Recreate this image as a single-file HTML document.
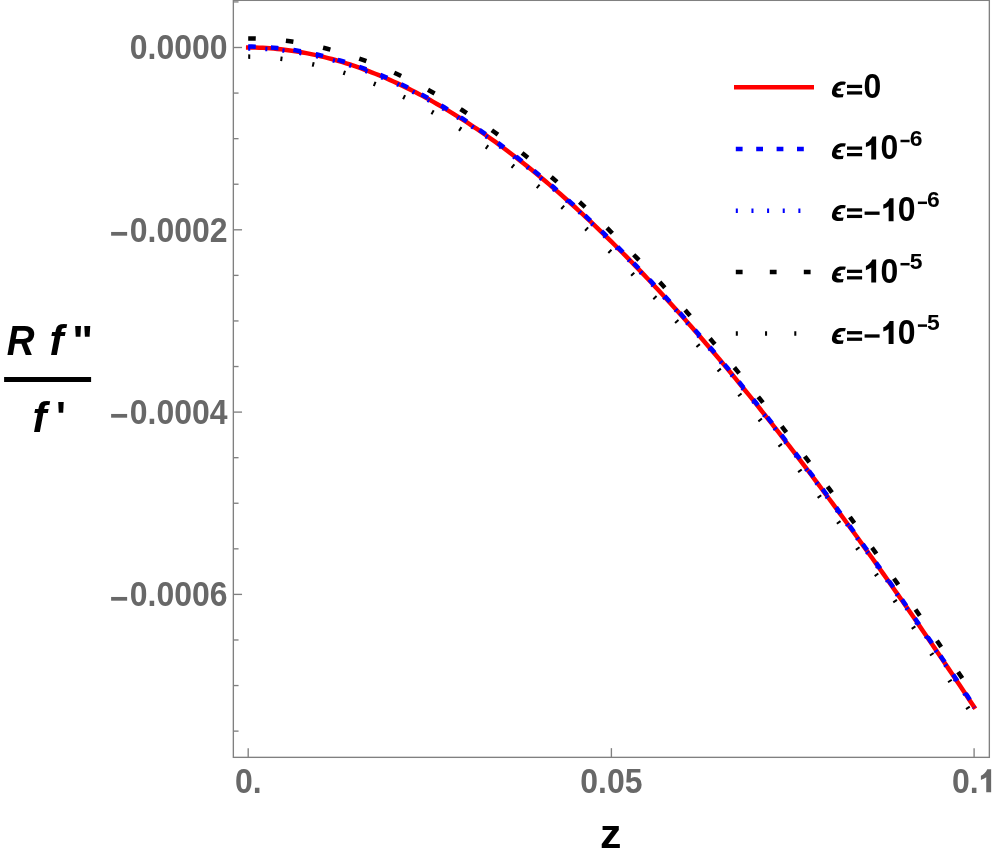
<!DOCTYPE html>
<html><head><meta charset="utf-8"><title>plot</title>
<style>html,body{margin:0;padding:0;background:#fff;}body{width:996px;height:857px;overflow:hidden;font-family:"Liberation Sans",sans-serif;}svg{display:block;will-change:transform}</style>
</head><body>
<svg width="996" height="857" viewBox="0 0 996 857">
<rect x="0" y="0" width="996" height="857" fill="#fff"/>
<g stroke="#808080" stroke-width="1.35" fill="none">
<rect x="233.35" y="0.35" width="756.0" height="757.0"/>
<line x1="233.35" y1="1.92" x2="238.54999999999998" y2="1.92"/>
<line x1="233.35" y1="47.50" x2="242.04999999999998" y2="47.50"/>
<line x1="233.35" y1="93.08" x2="238.54999999999998" y2="93.08"/>
<line x1="233.35" y1="138.65" x2="238.54999999999998" y2="138.65"/>
<line x1="233.35" y1="184.23" x2="238.54999999999998" y2="184.23"/>
<line x1="233.35" y1="229.80" x2="242.04999999999998" y2="229.80"/>
<line x1="233.35" y1="275.38" x2="238.54999999999998" y2="275.38"/>
<line x1="233.35" y1="320.95" x2="238.54999999999998" y2="320.95"/>
<line x1="233.35" y1="366.53" x2="238.54999999999998" y2="366.53"/>
<line x1="233.35" y1="412.10" x2="242.04999999999998" y2="412.10"/>
<line x1="233.35" y1="457.68" x2="238.54999999999998" y2="457.68"/>
<line x1="233.35" y1="503.25" x2="238.54999999999998" y2="503.25"/>
<line x1="233.35" y1="548.83" x2="238.54999999999998" y2="548.83"/>
<line x1="233.35" y1="594.40" x2="242.04999999999998" y2="594.40"/>
<line x1="233.35" y1="639.98" x2="238.54999999999998" y2="639.98"/>
<line x1="233.35" y1="685.55" x2="238.54999999999998" y2="685.55"/>
<line x1="233.35" y1="731.12" x2="238.54999999999998" y2="731.12"/>
<line x1="248.2" y1="757.35" x2="248.2" y2="748.15"/>
<line x1="611.4" y1="757.35" x2="611.4" y2="748.15"/>
<line x1="974.1" y1="757.35" x2="974.1" y2="748.15"/>
</g>
<g fill="none" stroke-width="4.5">
<path d="M248.20,47.50 L251.83,47.52 L255.46,47.59 L259.09,47.70 L262.72,47.86 L266.35,48.06 L269.98,48.30 L273.61,48.59 L277.24,48.93 L280.87,49.30 L284.50,49.72 L288.12,50.18 L291.75,50.69 L295.38,51.24 L299.01,51.83 L302.64,52.46 L306.27,53.14 L309.90,53.85 L313.53,54.61 L317.16,55.41 L320.79,56.25 L324.42,57.14 L328.05,58.06 L331.68,59.03 L335.31,60.03 L338.94,61.08 L342.57,62.16 L346.20,63.29 L349.83,64.46 L353.46,65.66 L357.08,66.91 L360.71,68.19 L364.34,69.52 L367.97,70.88 L371.60,72.28 L375.23,73.72 L378.86,75.20 L382.49,76.72 L386.12,78.27 L389.75,79.86 L393.38,81.49 L397.01,83.16 L400.64,84.87 L404.27,86.61 L407.90,88.39 L411.53,90.20 L415.16,92.06 L418.79,93.95 L422.42,95.87 L426.05,97.83 L429.68,99.83 L433.30,101.86 L436.93,103.93 L440.56,106.03 L444.19,108.17 L447.82,110.34 L451.45,112.55 L455.08,114.79 L458.71,117.07 L462.34,119.38 L465.97,121.72 L469.60,124.10 L473.23,126.51 L476.86,128.96 L480.49,131.44 L484.12,133.95 L487.75,136.50 L491.38,139.07 L495.01,141.69 L498.64,144.33 L502.26,147.00 L505.89,149.71 L509.52,152.45 L513.15,155.22 L516.78,158.02 L520.41,160.86 L524.04,163.72 L527.67,166.62 L531.30,169.54 L534.93,172.50 L538.56,175.49 L542.19,178.51 L545.82,181.56 L549.45,184.63 L553.08,187.74 L556.71,190.88 L560.34,194.05 L563.97,197.24 L567.60,200.47 L571.23,203.72 L574.86,207.01 L578.48,210.32 L582.11,213.66 L585.74,217.03 L589.37,220.43 L593.00,223.85 L596.63,227.30 L600.26,230.78 L603.89,234.29 L607.52,237.82 L611.15,241.39 L614.78,244.98 L618.41,248.59 L622.04,252.23 L625.67,255.90 L629.30,259.60 L632.93,263.32 L636.56,267.06 L640.19,270.84 L643.82,274.63 L647.44,278.46 L651.07,282.31 L654.70,286.18 L658.33,290.08 L661.96,294.00 L665.59,297.95 L669.22,301.93 L672.85,305.92 L676.48,309.94 L680.11,313.99 L683.74,318.06 L687.37,322.15 L691.00,326.27 L694.63,330.41 L698.26,334.57 L701.89,338.75 L705.52,342.96 L709.15,347.19 L712.78,351.45 L716.41,355.72 L720.04,360.02 L723.66,364.34 L727.29,368.68 L730.92,373.05 L734.55,377.43 L738.18,381.84 L741.81,386.27 L745.44,390.72 L749.07,395.19 L752.70,399.68 L756.33,404.19 L759.96,408.72 L763.59,413.28 L767.22,417.85 L770.85,422.44 L774.48,427.05 L778.11,431.69 L781.74,436.34 L785.37,441.01 L789.00,445.70 L792.62,450.41 L796.25,455.14 L799.88,459.88 L803.51,464.65 L807.14,469.43 L810.77,474.24 L814.40,479.06 L818.03,483.90 L821.66,488.75 L825.29,493.63 L828.92,498.52 L832.55,503.43 L836.18,508.36 L839.81,513.30 L843.44,518.26 L847.07,523.24 L850.70,528.24 L854.33,533.25 L857.96,538.27 L861.59,543.32 L865.22,548.38 L868.84,553.45 L872.47,558.54 L876.10,563.65 L879.73,568.78 L883.36,573.91 L886.99,579.07 L890.62,584.24 L894.25,589.42 L897.88,594.62 L901.51,599.83 L905.14,605.06 L908.77,610.30 L912.40,615.55 L916.03,620.83 L919.66,626.11 L923.29,631.41 L926.92,636.72 L930.55,642.04 L934.18,647.38 L937.81,652.73 L941.43,658.10 L945.06,663.48 L948.69,668.87 L952.32,674.27 L955.95,679.68 L959.58,685.11 L963.21,690.55 L966.84,696.01 L970.47,701.47 L974.10,706.95" stroke="#ff0000" stroke-linecap="square"/>
<path d="M248.20,46.59 L251.83,46.61 L255.46,46.68 L259.09,46.79 L262.72,46.95 L266.35,47.15 L269.98,47.39 L273.61,47.68 L277.24,48.02 L280.87,48.39 L284.50,48.81 L288.12,49.27 L291.75,49.78 L295.38,50.33 L299.01,50.92 L302.64,51.55 L306.27,52.23 L309.90,52.94 L313.53,53.70 L317.16,54.50 L320.79,55.34 L324.42,56.23 L328.05,57.15 L331.68,58.12 L335.31,59.12 L338.94,60.17 L342.57,61.25 L346.20,62.38 L349.83,63.55 L353.46,64.75 L357.08,66.00 L360.71,67.28 L364.34,68.61 L367.97,69.97 L371.60,71.37 L375.23,72.81 L378.86,74.29 L382.49,75.81 L386.12,77.36 L389.75,78.95 L393.38,80.58 L397.01,82.25 L400.64,83.96 L404.27,85.70 L407.90,87.48 L411.53,89.29 L415.16,91.15 L418.79,93.04 L422.42,94.96 L426.05,96.92 L429.68,98.92 L433.30,100.95 L436.93,103.02 L440.56,105.12 L444.19,107.26 L447.82,109.43 L451.45,111.64 L455.08,113.88 L458.71,116.16 L462.34,118.47 L465.97,120.81 L469.60,123.19 L473.23,125.60 L476.86,128.05 L480.49,130.53 L484.12,133.04 L487.75,135.59 L491.38,138.16 L495.01,140.78 L498.64,143.42 L502.26,146.09 L505.89,148.80 L509.52,151.54 L513.15,154.31 L516.78,157.11 L520.41,159.95 L524.04,162.81 L527.67,165.71 L531.30,168.63 L534.93,171.59 L538.56,174.58 L542.19,177.60 L545.82,180.65 L549.45,183.72 L553.08,186.83 L556.71,189.97 L560.34,193.14 L563.97,196.33 L567.60,199.56 L571.23,202.81 L574.86,206.10 L578.48,209.41 L582.11,212.75 L585.74,216.12 L589.37,219.52 L593.00,222.94 L596.63,226.39 L600.26,229.87 L603.89,233.38 L607.52,236.91 L611.15,240.48 L614.78,244.07 L618.41,247.68 L622.04,251.32 L625.67,254.99 L629.30,258.69 L632.93,262.41 L636.56,266.15 L640.19,269.93 L643.82,273.72 L647.44,277.55 L651.07,281.40 L654.70,285.27 L658.33,289.17 L661.96,293.09 L665.59,297.04 L669.22,301.02 L672.85,305.01 L676.48,309.03 L680.11,313.08 L683.74,317.15 L687.37,321.24 L691.00,325.36 L694.63,329.50 L698.26,333.66 L701.89,337.84 L705.52,342.05 L709.15,346.28 L712.78,350.54 L716.41,354.81 L720.04,359.11 L723.66,363.43 L727.29,367.77 L730.92,372.14 L734.55,376.52 L738.18,380.93 L741.81,385.36 L745.44,389.81 L749.07,394.28 L752.70,398.77 L756.33,403.28 L759.96,407.81 L763.59,412.37 L767.22,416.94 L770.85,421.53 L774.48,426.14 L778.11,430.78 L781.74,435.43 L785.37,440.10 L789.00,444.79 L792.62,449.50 L796.25,454.23 L799.88,458.97 L803.51,463.74 L807.14,468.52 L810.77,473.33 L814.40,478.15 L818.03,482.99 L821.66,487.84 L825.29,492.72 L828.92,497.61 L832.55,502.52 L836.18,507.45 L839.81,512.39 L843.44,517.35 L847.07,522.33 L850.70,527.33 L854.33,532.34 L857.96,537.36 L861.59,542.41 L865.22,547.47 L868.84,552.54 L872.47,557.63 L876.10,562.74 L879.73,567.87 L883.36,573.00 L886.99,578.16 L890.62,583.33 L894.25,588.51 L897.88,593.71 L901.51,598.92 L905.14,604.15 L908.77,609.39 L912.40,614.64 L916.03,619.92 L919.66,625.20 L923.29,630.50 L926.92,635.81 L930.55,641.13 L934.18,646.47 L937.81,651.82 L941.43,657.19 L945.06,662.57 L948.69,667.96 L952.32,673.36 L955.95,678.77 L959.58,684.20 L963.21,689.64 L966.84,695.10 L970.47,700.56 L974.10,706.04" stroke="#0000ff" stroke-dasharray="7.56 15.12"/>
<path d="M248.20,48.41 L251.83,48.43 L255.46,48.50 L259.09,48.61 L262.72,48.77 L266.35,48.97 L269.98,49.21 L273.61,49.50 L277.24,49.84 L280.87,50.21 L284.50,50.63 L288.12,51.09 L291.75,51.60 L295.38,52.15 L299.01,52.74 L302.64,53.37 L306.27,54.05 L309.90,54.76 L313.53,55.52 L317.16,56.32 L320.79,57.16 L324.42,58.05 L328.05,58.97 L331.68,59.94 L335.31,60.94 L338.94,61.99 L342.57,63.07 L346.20,64.20 L349.83,65.37 L353.46,66.57 L357.08,67.82 L360.71,69.10 L364.34,70.43 L367.97,71.79 L371.60,73.19 L375.23,74.63 L378.86,76.11 L382.49,77.63 L386.12,79.18 L389.75,80.77 L393.38,82.40 L397.01,84.07 L400.64,85.78 L404.27,87.52 L407.90,89.30 L411.53,91.11 L415.16,92.97 L418.79,94.86 L422.42,96.78 L426.05,98.74 L429.68,100.74 L433.30,102.77 L436.93,104.84 L440.56,106.94 L444.19,109.08 L447.82,111.25 L451.45,113.46 L455.08,115.70 L458.71,117.98 L462.34,120.29 L465.97,122.63 L469.60,125.01 L473.23,127.42 L476.86,129.87 L480.49,132.35 L484.12,134.86 L487.75,137.41 L491.38,139.98 L495.01,142.60 L498.64,145.24 L502.26,147.91 L505.89,150.62 L509.52,153.36 L513.15,156.13 L516.78,158.93 L520.41,161.77 L524.04,164.63 L527.67,167.53 L531.30,170.45 L534.93,173.41 L538.56,176.40 L542.19,179.42 L545.82,182.47 L549.45,185.54 L553.08,188.65 L556.71,191.79 L560.34,194.96 L563.97,198.15 L567.60,201.38 L571.23,204.63 L574.86,207.92 L578.48,211.23 L582.11,214.57 L585.74,217.94 L589.37,221.34 L593.00,224.76 L596.63,228.21 L600.26,231.69 L603.89,235.20 L607.52,238.73 L611.15,242.30 L614.78,245.89 L618.41,249.50 L622.04,253.14 L625.67,256.81 L629.30,260.51 L632.93,264.23 L636.56,267.97 L640.19,271.75 L643.82,275.54 L647.44,279.37 L651.07,283.22 L654.70,287.09 L658.33,290.99 L661.96,294.91 L665.59,298.86 L669.22,302.84 L672.85,306.83 L676.48,310.85 L680.11,314.90 L683.74,318.97 L687.37,323.06 L691.00,327.18 L694.63,331.32 L698.26,335.48 L701.89,339.66 L705.52,343.87 L709.15,348.10 L712.78,352.36 L716.41,356.63 L720.04,360.93 L723.66,365.25 L727.29,369.59 L730.92,373.96 L734.55,378.34 L738.18,382.75 L741.81,387.18 L745.44,391.63 L749.07,396.10 L752.70,400.59 L756.33,405.10 L759.96,409.63 L763.59,414.19 L767.22,418.76 L770.85,423.35 L774.48,427.96 L778.11,432.60 L781.74,437.25 L785.37,441.92 L789.00,446.61 L792.62,451.32 L796.25,456.05 L799.88,460.79 L803.51,465.56 L807.14,470.34 L810.77,475.15 L814.40,479.97 L818.03,484.81 L821.66,489.66 L825.29,494.54 L828.92,499.43 L832.55,504.34 L836.18,509.27 L839.81,514.21 L843.44,519.17 L847.07,524.15 L850.70,529.15 L854.33,534.16 L857.96,539.18 L861.59,544.23 L865.22,549.29 L868.84,554.36 L872.47,559.45 L876.10,564.56 L879.73,569.69 L883.36,574.82 L886.99,579.98 L890.62,585.15 L894.25,590.33 L897.88,595.53 L901.51,600.74 L905.14,605.97 L908.77,611.21 L912.40,616.46 L916.03,621.74 L919.66,627.02 L923.29,632.32 L926.92,637.63 L930.55,642.95 L934.18,648.29 L937.81,653.64 L941.43,659.01 L945.06,664.39 L948.69,669.78 L952.32,675.18 L955.95,680.59 L959.58,686.02 L963.21,691.46 L966.84,696.92 L970.47,702.38 L974.10,707.86" stroke="#0000ff" stroke-dasharray="2.04 15.12"/>
<path d="M248.20,38.40 L251.83,38.42 L255.46,38.49 L259.09,38.60 L262.72,38.76 L266.35,38.96 L269.98,39.20 L273.61,39.49 L277.24,39.83 L280.87,40.20 L284.50,40.62 L288.12,41.08 L291.75,41.59 L295.38,42.14 L299.01,42.73 L302.64,43.36 L306.27,44.03 L309.90,44.75 L313.53,45.51 L317.16,46.31 L320.79,47.15 L324.42,48.04 L328.05,48.96 L331.68,49.92 L335.31,50.93 L338.94,51.97 L342.57,53.06 L346.20,54.19 L349.83,55.35 L353.46,56.56 L357.08,57.80 L360.71,59.09 L364.34,60.41 L367.97,61.77 L371.60,63.17 L375.23,64.61 L378.86,66.09 L382.49,67.61 L386.12,69.16 L389.75,70.75 L393.38,72.38 L397.01,74.05 L400.64,75.75 L404.27,77.49 L407.90,79.27 L411.53,81.08 L415.16,82.93 L418.79,84.82 L422.42,86.74 L426.05,88.70 L429.68,90.70 L433.30,92.73 L436.93,94.79 L440.56,96.90 L444.19,99.03 L447.82,101.20 L451.45,103.41 L455.08,105.65 L458.71,107.92 L462.34,110.23 L465.97,112.57 L469.60,114.95 L473.23,117.36 L476.86,119.80 L480.49,122.28 L484.12,124.79 L487.75,127.33 L491.38,129.90 L495.01,132.51 L498.64,135.15 L502.26,137.82 L505.89,140.53 L509.52,143.26 L513.15,146.03 L516.78,148.83 L520.41,151.66 L524.04,154.52 L527.67,157.41 L531.30,160.33 L534.93,163.28 L538.56,166.27 L542.19,169.28 L545.82,172.32 L549.45,175.40 L553.08,178.50 L556.71,181.63 L560.34,184.80 L563.97,187.99 L567.60,191.21 L571.23,194.46 L574.86,197.73 L578.48,201.04 L582.11,204.37 L585.74,207.74 L589.37,211.13 L593.00,214.55 L596.63,217.99 L600.26,221.47 L603.89,224.97 L607.52,228.49 L611.15,232.05 L614.78,235.63 L618.41,239.24 L622.04,242.87 L625.67,246.53 L629.30,250.22 L632.93,253.93 L636.56,257.67 L640.19,261.44 L643.82,265.23 L647.44,269.04 L651.07,272.88 L654.70,276.75 L658.33,280.64 L661.96,284.55 L665.59,288.49 L669.22,292.45 L672.85,296.44 L676.48,300.45 L680.11,304.49 L683.74,308.55 L687.37,312.63 L691.00,316.74 L694.63,320.86 L698.26,325.02 L701.89,329.19 L705.52,333.39 L709.15,337.61 L712.78,341.85 L716.41,346.11 L720.04,350.40 L723.66,354.71 L727.29,359.04 L730.92,363.39 L734.55,367.76 L738.18,372.16 L741.81,376.57 L745.44,381.01 L749.07,385.46 L752.70,389.94 L756.33,394.44 L759.96,398.96 L763.59,403.50 L767.22,408.05 L770.85,412.63 L774.48,417.23 L778.11,421.85 L781.74,426.48 L785.37,431.14 L789.00,435.81 L792.62,440.51 L796.25,445.22 L799.88,449.95 L803.51,454.70 L807.14,459.47 L810.77,464.25 L814.40,469.06 L818.03,473.88 L821.66,478.72 L825.29,483.57 L828.92,488.45 L832.55,493.34 L836.18,498.25 L839.81,503.17 L843.44,508.12 L847.07,513.07 L850.70,518.05 L854.33,523.04 L857.96,528.05 L861.59,533.07 L865.22,538.11 L868.84,543.17 L872.47,548.24 L876.10,553.32 L879.73,558.42 L883.36,563.54 L886.99,568.67 L890.62,573.82 L894.25,578.98 L897.88,584.15 L901.51,589.34 L905.14,594.55 L908.77,599.77 L912.40,605.00 L916.03,610.25 L919.66,615.51 L923.29,620.78 L926.92,626.07 L930.55,631.37 L934.18,636.68 L937.81,642.00 L941.43,647.34 L945.06,652.69 L948.69,658.06 L952.32,663.43 L955.95,668.82 L959.58,674.22 L963.21,679.64 L966.84,685.06 L970.47,690.50 L974.10,695.95" stroke="#000" stroke-dasharray="7.56 30.24"/>
<path d="M248.20,56.60 L251.83,56.67 L255.46,56.79 L259.09,56.95 L262.72,57.15 L266.35,57.40 L269.98,57.69 L273.61,58.02 L277.24,58.40 L280.87,58.82 L284.50,59.28 L288.12,59.79 L291.75,60.33 L295.38,60.92 L299.01,61.55 L302.64,62.23 L306.27,62.94 L309.90,63.70 L313.53,64.49 L317.16,65.33 L320.79,66.21 L324.42,67.13 L328.05,68.09 L331.68,69.09 L335.31,70.13 L338.94,71.21 L342.57,72.33 L346.20,73.49 L349.83,74.69 L353.46,75.92 L357.08,77.20 L360.71,78.51 L364.34,79.87 L367.97,81.26 L371.60,82.69 L375.23,84.16 L378.86,85.66 L382.49,87.21 L386.12,88.79 L389.75,90.41 L393.38,92.06 L397.01,93.76 L400.64,95.49 L404.27,97.25 L407.90,99.05 L411.53,100.89 L415.16,102.77 L418.79,104.68 L422.42,106.62 L426.05,108.60 L429.68,110.62 L433.30,112.67 L436.93,114.76 L440.56,116.88 L444.19,119.04 L447.82,121.23 L451.45,123.45 L455.08,125.71 L458.71,128.01 L462.34,130.33 L465.97,132.69 L469.60,135.09 L473.23,137.51 L476.86,139.97 L480.49,142.47 L484.12,144.99 L487.75,147.55 L491.38,150.14 L495.01,152.76 L498.64,155.42 L502.26,158.10 L505.89,160.82 L509.52,163.57 L513.15,166.35 L516.78,169.16 L520.41,172.00 L524.04,174.88 L527.67,177.78 L531.30,180.72 L534.93,183.68 L538.56,186.67 L542.19,189.70 L545.82,192.75 L549.45,195.84 L553.08,198.95 L556.71,202.09 L560.34,205.27 L563.97,208.47 L567.60,211.70 L571.23,214.95 L574.86,218.24 L578.48,221.56 L582.11,224.90 L585.74,228.27 L589.37,231.67 L593.00,235.09 L596.63,238.55 L600.26,242.03 L603.89,245.54 L607.52,249.07 L611.15,252.63 L614.78,256.22 L618.41,259.84 L622.04,263.48 L625.67,267.14 L629.30,270.84 L632.93,274.55 L636.56,278.30 L640.19,282.07 L643.82,285.86 L647.44,289.68 L651.07,293.53 L654.70,297.40 L658.33,301.29 L661.96,305.21 L665.59,309.16 L669.22,313.13 L672.85,317.12 L676.48,321.13 L680.11,325.17 L683.74,329.24 L687.37,333.32 L691.00,337.43 L694.63,341.56 L698.26,345.72 L701.89,349.90 L705.52,354.10 L709.15,358.32 L712.78,362.57 L716.41,366.84 L720.04,371.13 L723.66,375.44 L727.29,379.77 L730.92,384.13 L734.55,388.50 L738.18,392.90 L741.81,397.32 L745.44,401.76 L749.07,406.22 L752.70,410.70 L756.33,415.20 L759.96,419.72 L763.59,424.27 L767.22,428.83 L770.85,433.41 L774.48,438.01 L778.11,442.63 L781.74,447.27 L785.37,451.93 L789.00,456.61 L792.62,461.31 L796.25,466.02 L799.88,470.76 L803.51,475.51 L807.14,480.28 L810.77,485.07 L814.40,489.88 L818.03,494.71 L821.66,499.55 L825.29,504.41 L828.92,509.29 L832.55,514.19 L836.18,519.10 L839.81,524.03 L843.44,528.98 L847.07,533.95 L850.70,538.93 L854.33,543.92 L857.96,548.94 L861.59,553.97 L865.22,559.01 L868.84,564.08 L872.47,569.15 L876.10,574.25 L879.73,579.35 L883.36,584.48 L886.99,589.62 L890.62,594.77 L894.25,599.94 L897.88,605.12 L901.51,610.32 L905.14,615.54 L908.77,620.76 L912.40,626.00 L916.03,631.26 L919.66,636.53 L923.29,641.81 L926.92,647.11 L930.55,652.42 L934.18,657.74 L937.81,663.08 L941.43,668.43 L945.06,673.79 L948.69,679.17 L952.32,684.56 L955.95,689.96 L959.58,695.37 L963.21,700.80 L966.84,706.23 L970.47,711.68 L974.10,717.14" stroke="#000" stroke-dasharray="2.04 30.24"/>
<path d="M734,87.2 H814" stroke="#ff0000"/>
<path d="M735.8,148.9 H810" stroke="#0000ff" stroke-dasharray="6.80 13.60"/>
<path d="M735.8,210.7 H810" stroke="#0000ff" stroke-dasharray="2.04 13.60"/>
<path d="M735.8,272.1 H812" stroke="#000" stroke-dasharray="6.80 27.20"/>
<path d="M735.8,333.5 H810" stroke="#000" stroke-dasharray="2.04 27.20"/>
</g>
<g font-family="Liberation Sans, sans-serif" font-weight="bold">
<g fill="#686868">
<text transform="translate(227.5,59.2) scale(0.934,1)" text-anchor="end" font-size="34.2" >0.0000</text>
<text transform="translate(227.5,241.5) scale(0.934,1)" text-anchor="end" font-size="34.2" ><tspan dy="3.5">−</tspan><tspan dx="1.3" dy="-3.5">0.0002</tspan></text>
<text transform="translate(227.5,423.8) scale(0.934,1)" text-anchor="end" font-size="34.2" ><tspan dy="3.5">−</tspan><tspan dx="1.3" dy="-3.5">0.0004</tspan></text>
<text transform="translate(227.5,606.1) scale(0.934,1)" text-anchor="end" font-size="34.2" ><tspan dy="3.5">−</tspan><tspan dx="1.3" dy="-3.5">0.0006</tspan></text>
<text transform="translate(248.2,792.9) scale(0.934,1)" text-anchor="middle" font-size="34.2" >0.</text>
<text transform="translate(611.4,792.9) scale(0.934,1)" text-anchor="middle" font-size="34.2" >0.05</text>
<text transform="translate(951.9000000000001,792.9) scale(0.934,1)" text-anchor="start" font-size="34.2" >0.</text>
</g>
<text transform="translate(610.8,848.1) scale(1.07,1)" text-anchor="middle" font-size="40" fill="#000">z</text>
<g fill="#000">
<text transform="translate(6.7,355.4) scale(0.925,1)" text-anchor="start" font-size="41.6" font-style="italic">R</text>
<text transform="translate(49.4,355.4) scale(1.02,1)" text-anchor="start" font-size="41.6" font-style="italic">f</text>
<text transform="translate(72.2,355.0) scale(1.06,1)" text-anchor="start" font-size="41.6" >"</text>
<text transform="translate(32.6,431.6) scale(1.02,1)" text-anchor="start" font-size="41.6" font-style="italic">f</text>
<text transform="translate(55.9,430.6) scale(1.0,1)" text-anchor="start" font-size="41.6" >'</text>
</g>
<rect x="4.1" y="377.0" width="87" height="5.0" fill="#000"/>
<path fill="#686868" transform="translate(980.9,792.3) scale(0.06527) translate(-90,-520)" d="M247,168 L247,520 L172,520 L172,290 C150,305 120,320 90,330 L90,265 C130,252 165,215 188,168 Z"/>
<g fill="#000">
<path transform="translate(831.9,97.60) scale(0.06024) translate(-98,-527)" d="M330,266 C300,262 260,260 230,263 C160,272 105,350 98,440 C95,500 140,527 215,527 L280,523 L292,467 L235,471 C195,471 170,452 172,425 L174,413 L245,413 L252,374 L186,374 C196,335 235,316 285,315 L314,315 Z"/>
<rect x="847" y="84.80" width="15.1" height="3.25"/>
<rect x="847" y="91.30" width="15.1" height="3.25"/>
<text transform="translate(863.6,97.7) scale(0.934,1)" text-anchor="start" font-size="34.2" >0</text>
<path transform="translate(831.9,159.30) scale(0.06024) translate(-98,-527)" d="M330,266 C300,262 260,260 230,263 C160,272 105,350 98,440 C95,500 140,527 215,527 L280,523 L292,467 L235,471 C195,471 170,452 172,425 L174,413 L245,413 L252,374 L186,374 C196,335 235,316 285,315 L314,315 Z"/>
<rect x="847" y="146.50" width="15.1" height="3.25"/>
<rect x="847" y="153.00" width="15.1" height="3.25"/>
<path transform="translate(865.9,159.4) scale(0.06527) translate(-90,-520)" d="M247,168 L247,520 L172,520 L172,290 C150,305 120,320 90,330 L90,265 C130,252 165,215 188,168 Z"/>
<text transform="translate(880.4000000000001,159.4) scale(0.934,1)" text-anchor="start" font-size="34.2" >0</text>
<rect x="900.50" y="139.75" width="9.1" height="2.5"/>
<text transform="translate(909.7,145.5) scale(1.04,1)" text-anchor="start" font-size="22.0" >6</text>
<path transform="translate(831.9,221.10) scale(0.06024) translate(-98,-527)" d="M330,266 C300,262 260,260 230,263 C160,272 105,350 98,440 C95,500 140,527 215,527 L280,523 L292,467 L235,471 C195,471 170,452 172,425 L174,413 L245,413 L252,374 L186,374 C196,335 235,316 285,315 L314,315 Z"/>
<rect x="847" y="208.30" width="15.1" height="3.25"/>
<rect x="847" y="214.80" width="15.1" height="3.25"/>
<rect x="864.6" y="211.55" width="15.0" height="3.3"/>
<path transform="translate(883.3,221.2) scale(0.06527) translate(-90,-520)" d="M247,168 L247,520 L172,520 L172,290 C150,305 120,320 90,330 L90,265 C130,252 165,215 188,168 Z"/>
<text transform="translate(897.8000000000001,221.2) scale(0.934,1)" text-anchor="start" font-size="34.2" >0</text>
<rect x="917.90" y="201.55" width="9.1" height="2.5"/>
<text transform="translate(927.1,207.3) scale(1.04,1)" text-anchor="start" font-size="22.0" >6</text>
<path transform="translate(831.9,282.50) scale(0.06024) translate(-98,-527)" d="M330,266 C300,262 260,260 230,263 C160,272 105,350 98,440 C95,500 140,527 215,527 L280,523 L292,467 L235,471 C195,471 170,452 172,425 L174,413 L245,413 L252,374 L186,374 C196,335 235,316 285,315 L314,315 Z"/>
<rect x="847" y="269.70" width="15.1" height="3.25"/>
<rect x="847" y="276.20" width="15.1" height="3.25"/>
<path transform="translate(865.9,282.6) scale(0.06527) translate(-90,-520)" d="M247,168 L247,520 L172,520 L172,290 C150,305 120,320 90,330 L90,265 C130,252 165,215 188,168 Z"/>
<text transform="translate(880.4000000000001,282.6) scale(0.934,1)" text-anchor="start" font-size="34.2" >0</text>
<rect x="900.50" y="262.95" width="9.1" height="2.5"/>
<text transform="translate(909.7,268.7) scale(1.04,1)" text-anchor="start" font-size="22.0" >5</text>
<path transform="translate(831.9,343.90) scale(0.06024) translate(-98,-527)" d="M330,266 C300,262 260,260 230,263 C160,272 105,350 98,440 C95,500 140,527 215,527 L280,523 L292,467 L235,471 C195,471 170,452 172,425 L174,413 L245,413 L252,374 L186,374 C196,335 235,316 285,315 L314,315 Z"/>
<rect x="847" y="331.10" width="15.1" height="3.25"/>
<rect x="847" y="337.60" width="15.1" height="3.25"/>
<rect x="864.6" y="334.35" width="15.0" height="3.3"/>
<path transform="translate(883.3,344.0) scale(0.06527) translate(-90,-520)" d="M247,168 L247,520 L172,520 L172,290 C150,305 120,320 90,330 L90,265 C130,252 165,215 188,168 Z"/>
<text transform="translate(897.8000000000001,344.0) scale(0.934,1)" text-anchor="start" font-size="34.2" >0</text>
<rect x="917.90" y="324.35" width="9.1" height="2.5"/>
<text transform="translate(927.1,330.1) scale(1.04,1)" text-anchor="start" font-size="22.0" >5</text>
</g>
</g>
</svg>
</body></html>
